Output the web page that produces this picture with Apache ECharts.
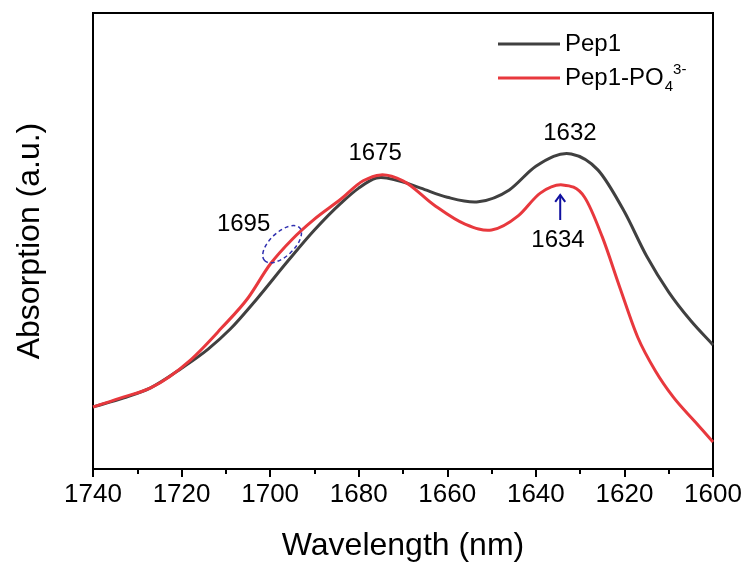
<!DOCTYPE html>
<html>
<head>
<meta charset="utf-8">
<script src="https://cdn.jsdelivr.net/npm/echarts@6/dist/echarts.min.js"></script>
<style>
html,body{margin:0;padding:0;background:#fff;}
#chart{width:752px;height:569px;}
</style>
</head>
<body>
<div id="chart"></div>
<script>
var pep1Wavelengths = [1740,1733,1727,1720,1714,1709,1703,1696,1690,1684,1680,1676,1671,1666,1660,1653,1646,1640,1632,1626,1620,1615,1610,1605,1600];
var pep1Values      = [13.6,15.6,17.8,22.1,26.3,30.7,37.3,45.6,52.4,58.3,61.6,63.8,63.2,61.6,59.6,58.6,61.2,66.4,69.1,65.6,56.4,46.7,38.8,32.5,27.2];
var po4Wavelengths  = [1740,1733,1727,1718,1711,1705,1700,1695,1690,1684,1679,1675,1670,1663,1656,1650,1644,1639,1634,1629,1625,1621,1617,1613,1609,1604,1600];
var po4Values       = [13.6,15.8,17.8,23.9,30.9,37.5,44.9,50.4,54.8,59.2,63.2,64.5,63.2,57.9,53.7,52.4,55.5,60.5,62.3,59.6,50.9,39.7,28.9,21.5,15.8,10.3,5.9];
var seriesNames = ['Pep1','Pep1-PO4 3-'];
var seriesColors = ['#404040','#e8383d'];
var xTicks = {min:1600, max:1740, interval:20};
var annotations = [
  {text:'1695', wl:1706.0, v:53.7},
  {text:'1675', wl:1676.3, v:69.3},
  {text:'1632', wl:1632.3, v:73.7},
  {text:'1634', wl:1635.0, v:50.2}
];
var circleAt = {wl:1697.3, v:49.3};
var arrowAt = {wl:1634.5, from:54.6, to:60.1};

function pairs(xs, ys){ return xs.map(function(x,i){ return [x, ys[i]]; }); }
var FONT = '"Liberation Sans", Arial, Helvetica, sans-serif';

// smooth cubic (Hermite -> Bezier) path through pixel points, x-monotone
function smoothPathData(pts){
  var n = pts.length, s = [];
  for (var i = 0; i < n; i++){
    if (i === 0) s.push((pts[1][1]-pts[0][1])/(pts[1][0]-pts[0][0]));
    else if (i === n-1) s.push((pts[n-1][1]-pts[n-2][1])/(pts[n-1][0]-pts[n-2][0]));
    else {
      var h0 = pts[i][0]-pts[i-1][0], h1 = pts[i+1][0]-pts[i][0];
      var d0 = (pts[i][1]-pts[i-1][1])/h0, d1 = (pts[i+1][1]-pts[i][1])/h1;
      s.push((d0*h1 + d1*h0)/(h0+h1));
    }
  }
  var d = 'M' + pts[0][0] + ' ' + pts[0][1];
  for (var j = 0; j < n-1; j++){
    var h = (pts[j+1][0]-pts[j][0])/3;
    d += ' C' + (pts[j][0]+h) + ' ' + (pts[j][1]+s[j]*h) + ' ' +
         (pts[j+1][0]-h) + ' ' + (pts[j+1][1]-s[j+1]*h) + ' ' +
         pts[j+1][0] + ' ' + pts[j+1][1];
  }
  return d;
}

function curveSeries(idx, xs, ys){
  var data = pairs(xs, ys);
  return {
    name:seriesNames[idx], type:'custom', data:data, encode:{x:0, y:1},
    itemStyle:{color:seriesColors[idx]}, z:2+idx,
    renderItem:function(params, api){
      if (params.dataIndex !== 0) return null;
      var pts = data.map(function(p){ return api.coord(p); });
      return {type:'path', shape:{pathData:smoothPathData(pts)},
        style:{fill:'none', stroke:seriesColors[idx], lineWidth:3, lineJoin:'round'}};
    }
  };
}

var chart = echarts.init(document.getElementById('chart'), null, {renderer:'canvas'});
chart.setOption({
  animation:false,
  backgroundColor:'#fff',
  textStyle:{fontFamily:FONT},
  grid:{left:93, right:39, top:13, bottom:100, show:true, borderColor:'#000', borderWidth:2, backgroundColor:'transparent'},
  legend:{
    orient:'vertical', left:493, top:25, itemWidth:62, itemHeight:10, itemGap:4,
    icon:'path://M0,0L62,0L62,3L0,3Z',
    textStyle:{fontSize:24, color:'#000', fontFamily:FONT, lineHeight:28,
      rich:{
        base:{fontSize:24, color:'#000', fontFamily:FONT, lineHeight:28},
        sub:{fontSize:15, color:'#000', fontFamily:FONT, verticalAlign:'bottom', lineHeight:28, padding:[0,0,-2,1]},
        sup:{fontSize:15, color:'#000', fontFamily:FONT, verticalAlign:'top', lineHeight:28, padding:[-2,0,0,0]}
      }},
    formatter:function(name){
      if(name === seriesNames[1]) return '{base|Pep1-PO}{sub|4}{sup|3-}';
      return '{base|' + name + '}';
    },
    data:seriesNames
  },
  xAxis:{
    type:'value', min:xTicks.min, max:xTicks.max, interval:xTicks.interval, inverse:true,
    name:'Wavelength (nm)', nameLocation:'middle', nameGap:61,
    nameTextStyle:{fontSize:32, color:'#000', fontFamily:FONT},
    axisLine:{show:true, lineStyle:{color:'#000', width:2}},
    axisTick:{show:true, inside:false, length:8, lineStyle:{color:'#000', width:2}},
    minorTick:{show:true, splitNumber:2, length:5, lineStyle:{color:'#000', width:2}},
    axisLabel:{fontSize:26, color:'#000', margin:13, fontFamily:FONT,
      formatter:function(v){ return String(v); }},
    splitLine:{show:false}
  },
  yAxis:{
    type:'value', min:0, max:100,
    name:'Absorption (a.u.)', nameLocation:'middle', nameGap:47,
    nameTextStyle:{fontSize:32, color:'#000', fontFamily:FONT},
    axisLine:{show:true, lineStyle:{color:'#000', width:2}},
    axisTick:{show:false}, axisLabel:{show:false}, splitLine:{show:false}
  },
  series:[
    curveSeries(0, pep1Wavelengths, pep1Values),
    curveSeries(1, po4Wavelengths, po4Values)
  ]
});

function px(wl, v){ return chart.convertToPixel({gridIndex:0}, [wl, v]); }
var g = [];
annotations.forEach(function(a){
  var p = px(a.wl, a.v);
  g.push({type:'text', x:p[0], y:p[1], z:100,
    style:{text:a.text, fontSize:24, fill:'#000', fontFamily:FONT, align:'center', verticalAlign:'middle'}});
});
var c = px(circleAt.wl, circleAt.v);
g.push({type:'ellipse', x:c[0], y:c[1], rotation:0.75, z:100,
  shape:{cx:0, cy:0, rx:24, ry:12},
  style:{fill:'none', stroke:'#3030b0', lineWidth:1.5, lineDash:[4,3]}});
var a0 = px(arrowAt.wl, arrowAt.from), a1 = px(arrowAt.wl, arrowAt.to);
g.push({type:'line', z:100, shape:{x1:a0[0], y1:a0[1], x2:a1[0], y2:a1[1]}, style:{stroke:'#1010a0', lineWidth:2}});
g.push({type:'polyline', z:100, shape:{points:[[a1[0]-5, a1[1]+7],[a1[0], a1[1]],[a1[0]+5, a1[1]+7]]}, style:{stroke:'#1010a0', lineWidth:2, fill:'none'}});
chart.setOption({graphic:g});
</script>
</body>
</html>
